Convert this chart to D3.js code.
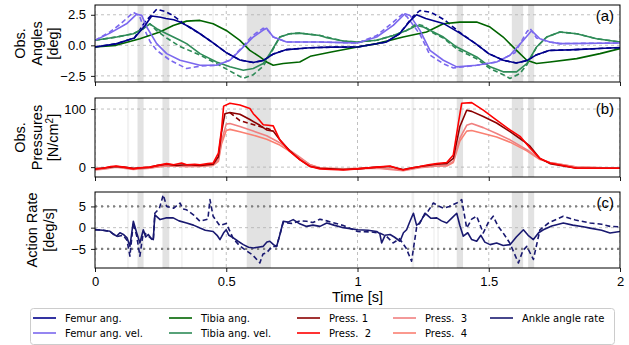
<!DOCTYPE html>
<html>
<head>
<meta charset="utf-8">
<script src="https://cdn.jsdelivr.net/npm/d3@7"></script>
<style>
  body { margin: 0; background: #fff; }
  svg { display: block; }
  .tick-label, .axis-label, .panel-tag { font-family: "Liberation Sans", Arial, sans-serif; fill: #000; }
  .legend text { font-family: "DejaVu Sans", sans-serif; font-size: 10px; white-space: pre; }
</style>
</head>
<body>
<svg width="629" height="345"></svg>
<script>
// ---- data (time [s], value) ----
var xTicks = [0, 0.5, 1, 1.5, 2];
var xTickLabels = ["0", "0.5", "1", "1.5", "2"];

// shaded events: [start, end, strength]
var events = [
  [0.122, 0.130, 0.45], [0.162, 0.185, 1], [0.257, 0.283, 1], [0.328, 0.334, 0.45],
  [0.447, 0.453, 0.45], [0.578, 0.670, 1], [1.206, 1.216, 0.5], [1.289, 1.294, 0.5],
  [1.304, 1.310, 0.5], [1.378, 1.402, 1], [1.588, 1.631, 1], [1.650, 1.673, 1]
];

var femurAng = [[0,-0.14],[0.08,0.12],[0.15,0.6],[0.19,1.6],[0.216,2.4],[0.25,2.3],[0.27,2.2],[0.3,2.1],[0.324,1.9],[0.36,1.5],[0.4,0.95],[0.45,0.2],[0.5,-0.6],[0.552,-1.2],[0.603,-1.4],[0.64,-1.25],[0.68,-0.7],[0.73,-0.35],[0.82,-0.2],[0.9,-0.15],[1.0,-0.14],[1.11,0.27],[1.16,0.95],[1.2,2.0],[1.225,2.5],[1.26,2.2],[1.33,1.76],[1.39,1.0],[1.45,0.14],[1.5,-0.68],[1.555,-1.22],[1.605,-1.44],[1.645,-1.25],[1.68,-0.8],[1.73,-0.42],[1.83,-0.35],[1.96,-0.22],[2.0,-0.19]];
var femurAngRef = [[0,-0.14],[0.08,0.12],[0.15,0.6],[0.19,1.9],[0.235,2.95],[0.27,2.75],[0.3,2.4],[0.35,1.6],[0.4,0.95],[0.45,0.2],[0.5,-0.6],[0.552,-1.2],[0.603,-1.4],[0.64,-1.25],[0.68,-0.7],[0.73,-0.35],[0.82,-0.2],[0.9,-0.15],[1.0,-0.14],[1.11,0.27],[1.16,0.95],[1.213,2.4],[1.238,2.85],[1.28,2.7],[1.33,2.1],[1.39,1.05],[1.45,0.14],[1.5,-0.68],[1.555,-1.22],[1.605,-1.44],[1.645,-1.25],[1.68,-0.8],[1.73,-0.42],[1.83,-0.35],[1.96,-0.22],[2.0,-0.19]];
var femurVel = [[0,0.41],[0.057,1.0],[0.12,1.76],[0.159,2.55],[0.178,2.45],[0.197,1.5],[0.235,0.14],[0.273,-0.68],[0.324,-1.22],[0.4,-1.63],[0.463,-1.63],[0.514,-1.22],[0.552,-0.41],[0.603,0.68],[0.641,1.25],[0.654,1.4],[0.679,0.68],[0.73,0.27],[0.857,0.27],[0.946,0.22],[1.0,0.19],[1.073,0.68],[1.136,1.63],[1.181,2.58],[1.2,2.45],[1.238,1.22],[1.276,-0.41],[1.327,-1.22],[1.378,-1.76],[1.454,-1.63],[1.53,-1.36],[1.581,-0.81],[1.632,0.41],[1.663,1.2],[1.695,0.54],[1.733,0.27],[1.771,0.14],[2.0,0.19]];
var femurVelRef = [[0,0.41],[0.057,1.1],[0.1,1.8],[0.146,2.7],[0.17,2.4],[0.184,1.5],[0.21,0.3],[0.235,-0.41],[0.286,-1.22],[0.349,-1.9],[0.4,-1.7],[0.463,-1.63],[0.514,-1.22],[0.552,-0.35],[0.6,0.8],[0.641,1.4],[0.66,1.2],[0.679,0.68],[0.73,0.27],[0.857,0.27],[0.946,0.22],[1.0,0.19],[1.073,0.8],[1.136,1.9],[1.174,2.6],[1.19,2.3],[1.238,0.9],[1.276,-0.8],[1.327,-1.5],[1.365,-1.85],[1.454,-1.63],[1.53,-1.36],[1.6,-0.6],[1.645,1.1],[1.657,1.4],[1.682,0.6],[1.733,0.27],[1.771,0.14],[2.0,0.19]];
var tibiaAng = [[0,-0.14],[0.08,0],[0.171,0.54],[0.247,1.09],[0.298,1.63],[0.349,1.98],[0.4,2.04],[0.45,1.76],[0.5,1.22],[0.552,0.41],[0.59,-0.41],[0.628,-0.95],[0.654,-1.36],[0.679,-1.63],[0.717,-1.49],[0.78,-1.36],[0.82,-0.9],[0.9,-0.55],[1.0,-0.14],[1.073,0.14],[1.174,0.68],[1.263,1.09],[1.327,1.76],[1.39,1.9],[1.454,1.9],[1.505,1.49],[1.555,0.68],[1.606,-0.41],[1.645,-1.22],[1.682,-1.49],[1.733,-1.36],[1.835,-1.09],[1.924,-0.68],[2.0,-0.27]];
var tibiaVel = [[0,0.41],[0.0825,0.68],[0.146,0.95],[0.184,1.36],[0.209,1.76],[0.235,1.36],[0.273,0.95],[0.324,0.41],[0.349,0.14],[0.4,-0.68],[0.463,-1.36],[0.514,-1.76],[0.565,-2.04],[0.603,-1.9],[0.641,-1.49],[0.666,-0.68],[0.704,0.68],[0.742,0.95],[0.78,1.0],[0.857,0.81],[0.883,0.62],[0.946,0.35],[1.0,0.27],[1.073,0.41],[1.136,0.81],[1.187,1.22],[1.225,1.63],[1.251,1.5],[1.289,1.09],[1.327,0.68],[1.378,-0.14],[1.454,-0.95],[1.505,-1.76],[1.555,-2.17],[1.606,-2.17],[1.645,-1.49],[1.682,-0.14],[1.721,0.68],[1.771,1.09],[1.835,0.95],[1.911,0.54],[2.0,0.27]];
var tibiaVelRef = [[0,0.41],[0.0825,0.68],[0.146,0.95],[0.184,1.36],[0.209,1.76],[0.235,1.2],[0.273,0.6],[0.324,-0.1],[0.4,-0.8],[0.463,-1.5],[0.514,-2.1],[0.565,-2.7],[0.603,-2.4],[0.641,-1.7],[0.666,-0.8],[0.704,0.68],[0.742,0.95],[0.78,1.0],[0.857,0.81],[0.946,0.35],[1.0,0.27],[1.073,0.41],[1.136,0.81],[1.187,1.22],[1.225,1.75],[1.251,1.6],[1.289,1.0],[1.327,0.6],[1.378,-0.3],[1.454,-1.1],[1.505,-1.9],[1.555,-2.4],[1.581,-2.71],[1.619,-2.3],[1.645,-1.6],[1.682,-0.14],[1.721,0.68],[1.771,1.09],[1.835,0.95],[1.911,0.54],[2.0,0.27]];

var press1 = [[0,-3],[0.04,-1],[0.08,1],[0.11,0],[0.146,-2],[0.18,-1],[0.209,0],[0.24,3],[0.273,5],[0.31,3],[0.349,4],[0.4,3],[0.45,5],[0.47,18],[0.482,60],[0.495,92],[0.514,94],[0.552,91],[0.59,82],[0.628,72],[0.654,64],[0.679,62],[0.704,47],[0.742,28],[0.78,13],[0.82,1],[0.857,-2],[0.946,-4],[1.0,-3],[1.073,0],[1.124,1],[1.174,-4],[1.238,1],[1.302,5],[1.34,6],[1.365,15],[1.39,70],[1.416,98],[1.435,96],[1.479,87],[1.53,76],[1.581,61],[1.632,45],[1.657,36],[1.695,15],[1.733,6],[1.835,-2],[2.0,-2]];
var press1Ref = [[0.514,94],[0.53,88],[0.552,80],[0.59,75],[0.628,70],[0.66,66],[0.68,62]];
var press2 = [[0,-3],[0.03,-2],[0.06,1],[0.08,2],[0.11,0],[0.146,-3],[0.17,-1],[0.209,0],[0.24,3],[0.273,6],[0.3,4],[0.33,7],[0.349,4],[0.38,5],[0.4,4],[0.43,6],[0.45,7],[0.47,24],[0.482,64],[0.49,105],[0.514,110],[0.552,107],[0.59,101],[0.603,92],[0.628,80],[0.641,73],[0.66,72],[0.679,71],[0.704,47],[0.742,27],[0.78,13],[0.82,1],[0.857,-3],[0.9,-4],[0.946,-5],[1.0,-3],[1.073,0],[1.124,2],[1.15,-2],[1.174,-5],[1.2,-2],[1.238,1],[1.27,4],[1.302,6],[1.34,8],[1.365,21],[1.384,75],[1.397,110],[1.435,111],[1.479,98],[1.53,81],[1.581,64],[1.619,53],[1.657,33],[1.695,15],[1.733,7],[1.835,-2],[2.0,-2]];
var press3 = [[0,-5],[0.04,-3],[0.08,0],[0.146,-4],[0.209,-2],[0.273,3],[0.349,1],[0.4,2],[0.45,4],[0.47,12],[0.482,45],[0.5,74],[0.514,75],[0.552,70],[0.603,62],[0.654,54],[0.704,42],[0.742,29],[0.78,17],[0.82,4],[0.857,-2],[0.946,-4],[1.073,-2],[1.174,-6],[1.238,-1],[1.302,2],[1.34,3],[1.365,10],[1.39,50],[1.416,72],[1.435,75],[1.479,68],[1.53,58],[1.581,47],[1.645,30],[1.695,14],[1.733,8],[1.835,0],[2.0,-2]];
var press4 = [[0,-4],[0.04,-2],[0.08,1],[0.146,-3],[0.209,-1],[0.273,2],[0.349,1],[0.4,1],[0.45,3],[0.47,10],[0.482,40],[0.5,63],[0.514,65],[0.552,61],[0.603,55],[0.654,48],[0.704,38],[0.742,27],[0.78,16],[0.82,4],[0.857,-1],[0.946,-3],[1.073,-1],[1.174,-5],[1.238,0],[1.302,2],[1.34,2],[1.365,8],[1.39,45],[1.416,62],[1.435,63],[1.479,58],[1.53,52],[1.581,43],[1.645,28],[1.695,13],[1.733,8],[1.835,0],[2.0,-2]];

var ankleRate = [[0,-0.47],[0.03,-0.6],[0.057,-0.86],[0.07,-1.5],[0.0825,-2.0],[0.095,-1.2],[0.108,-1.6],[0.122,-2.4],[0.133,-4.4],[0.146,1.5],[0.159,-1.25],[0.171,-3.6],[0.184,-0.5],[0.193,-2.2],[0.203,-1.6],[0.215,-2.6],[0.222,-2.8],[0.228,3.0],[0.248,1.9],[0.27,2.3],[0.298,2.3],[0.32,1.6],[0.349,1.1],[0.375,0.6],[0.4,-0.1],[0.42,-0.6],[0.45,-0.9],[0.465,-1.8],[0.476,-2.8],[0.49,-1.2],[0.5,-0.5],[0.51,-1.8],[0.527,-2.4],[0.545,-3.2],[0.565,-4.0],[0.585,-4.6],[0.603,-4.8],[0.62,-4.6],[0.641,-4.4],[0.655,-3.4],[0.666,-3.2],[0.68,-4.0],[0.692,-4.4],[0.705,-1.5],[0.717,1.5],[0.735,1.3],[0.755,1.9],[0.78,0.9],[0.806,0.3],[0.83,0.6],[0.857,0.3],[0.883,1.1],[0.91,0.6],[0.946,0.0],[1.0,-0.5],[1.04,-0.6],[1.073,-0.9],[1.085,-1.4],[1.092,-3.6],[1.105,-1.8],[1.124,-1.6],[1.14,-2.2],[1.162,-3.2],[1.175,-1.2],[1.187,-0.5],[1.2,1.5],[1.213,3.4],[1.225,0.6],[1.238,1.1],[1.257,3.4],[1.28,2.2],[1.302,2.3],[1.32,1.6],[1.34,1.1],[1.36,2.3],[1.378,3.4],[1.39,0.5],[1.403,-2],[1.42,-1.2],[1.435,-2.8],[1.454,-3.2],[1.47,-1.8],[1.485,-3.4],[1.505,-4],[1.53,-3.6],[1.555,-4.2],[1.581,-4],[1.605,-2.2],[1.632,-0.5],[1.65,-1.8],[1.67,-2.8],[1.69,-1.2],[1.708,-0.5],[1.74,0.4],[1.784,1.1],[1.82,0.6],[1.86,0.2],[1.886,-0.1],[1.93,-0.6],[1.962,-1.25],[2.0,-0.9]];
var ankleRateRef = [[0,-0.47],[0.03,-0.6],[0.057,-0.9],[0.0825,-2.1],[0.108,-1.8],[0.122,-3],[0.133,-6.7],[0.146,1.2],[0.159,-2],[0.171,-6.7],[0.184,-1],[0.203,-2],[0.222,-3],[0.228,3.4],[0.245,4.5],[0.26,7.7],[0.273,5],[0.3,4.6],[0.324,5.8],[0.335,4.4],[0.349,4.2],[0.375,3.0],[0.4,1.5],[0.43,2],[0.438,6.6],[0.45,2.7],[0.475,0.5],[0.5,1],[0.527,-2.6],[0.55,-4.2],[0.578,-5.5],[0.6,-6.4],[0.628,-8.3],[0.64,-6.2],[0.654,-5.9],[0.675,-4.4],[0.692,-4.4],[0.717,1.2],[0.75,1.0],[0.78,1.6],[0.806,1.5],[0.83,1.2],[0.857,2.0],[0.883,1.6],[0.946,0.5],[1.0,-0.9],[1.05,-1.0],[1.086,-1.3],[1.11,-2.0],[1.136,-3.6],[1.16,-2.6],[1.185,-4.8],[1.206,-7.9],[1.225,0],[1.251,2.6],[1.27,4.0],[1.289,5.8],[1.305,5.2],[1.327,4.6],[1.35,5.0],[1.378,5.8],[1.397,6.6],[1.416,-0.1],[1.435,2.0],[1.454,2.7],[1.479,-1.25],[1.498,1.2],[1.517,2.7],[1.535,0.4],[1.555,-1.25],[1.58,-3.6],[1.613,-8.3],[1.63,-5.4],[1.645,-4.4],[1.67,-7.5],[1.695,-0.5],[1.73,1.2],[1.784,2.7],[1.83,1.8],[1.886,1.1],[1.93,0.8],[1.962,0.3],[2.0,0.2]];

// ---- layout ----
var svg = d3.select("svg");
var x = d3.scaleLinear().domain([0, 2]).range([95, 620]);

var panels = [
  { id: "a", top: 5, bottom: 82, domain: [-3.0, 3.3], ticks: [-2.5, 0, 2.5], fmt: d3.format(".1f"),
    label: ["Obs.", "Angles", "[deg]"],
    series: [
      { data: tibiaVelRef, color: "#2e8b57", dash: "5,3" },
      { data: femurVelRef, color: "#7b68ee", dash: "5,3" },
      { data: femurAngRef, color: "#00008b", dash: "5,3" },
      { data: tibiaAng, color: "#006400" },
      { data: tibiaVel, color: "#2e8b57" },
      { data: femurVel, color: "#7b68ee" },
      { data: femurAng, color: "#00008b" }
    ] },
  { id: "b", top: 98, bottom: 177, domain: [-17, 119], ticks: [0, 100], fmt: d3.format("d"),
    label: ["Obs.", "Pressures", "[N/cm²]"],
    series: [
      { data: press4, color: "#fa8072" },
      { data: press3, color: "#f08080" },
      { data: press1Ref, color: "#8b0000", dash: "5,3" },
      { data: press1, color: "#8b0000" },
      { data: press2, color: "#ff0000" }
    ] },
  { id: "c", top: 192, bottom: 268, domain: [-9.5, 8.4], ticks: [-5, 0, 5], fmt: d3.format("d"),
    label: ["Action Rate", "[deg/s]"], limits: [-5, 5],
    series: [
      { data: ankleRateRef, color: "#191970", dash: "5,3" },
      { data: ankleRate, color: "#191970" }
    ] }
];

panels.forEach(function (p, i) {
  var y = d3.scaleLinear().domain(p.domain).range([p.bottom, p.top]);
  var g = svg.append("g");

  g.append("clipPath").attr("id", "clip" + p.id)
    .append("rect").attr("x", x(0)).attr("y", p.top)
    .attr("width", x(2) - x(0)).attr("height", p.bottom - p.top);

  var inner = g.append("g").attr("clip-path", "url(#clip" + p.id + ")");

  // event bands
  inner.selectAll(".band").data(events).enter().append("rect")
    .attr("x", function (d) { return x(d[0]); })
    .attr("width", function (d) { return x(d[1]) - x(d[0]); })
    .attr("y", p.top).attr("height", p.bottom - p.top)
    .attr("fill", "#d8d8d8")
    .attr("opacity", function (d) { return d[2] * 0.75; });

  // grid
  inner.selectAll(".gx").data(xTicks).enter().append("line")
    .attr("x1", function (d) { return x(d); }).attr("x2", function (d) { return x(d); })
    .attr("y1", p.top).attr("y2", p.bottom)
    .attr("stroke", "#b0b0b0").attr("stroke-width", 0.8).attr("stroke-dasharray", "3,3");
  inner.selectAll(".gy").data(p.ticks).enter().append("line")
    .attr("x1", x(0)).attr("x2", x(2))
    .attr("y1", function (d) { return y(d); }).attr("y2", function (d) { return y(d); })
    .attr("stroke", "#b0b0b0").attr("stroke-width", 0.8).attr("stroke-dasharray", "3,3");

  if (p.limits) {
    inner.selectAll(".lim").data(p.limits).enter().append("line")
      .attr("x1", x(0)).attr("x2", x(2))
      .attr("y1", function (d) { return y(d); }).attr("y2", function (d) { return y(d); })
      .attr("stroke", "#808080").attr("stroke-width", 2.2).attr("stroke-dasharray", "2,4");
  }

  var line = d3.line()
    .x(function (d) { return x(d[0]); })
    .y(function (d) { return y(d[1]); });

  p.series.forEach(function (s) {
    inner.append("path")
      .datum(s.data)
      .attr("d", line)
      .attr("fill", "none")
      .attr("stroke", s.color)
      .attr("stroke-width", 1.6)
      .attr("stroke-linejoin", "round")
      .attr("stroke-dasharray", s.dash || null);
  });

  // axes
  var yAxis = g.append("g").attr("transform", "translate(" + x(0) + ",0)")
    .call(d3.axisLeft(y).tickValues(p.ticks).tickSize(4).tickPadding(5)
      .tickFormat(function (d) { return p.fmt(d).replace("-", "\u2212"); }));
  var xAxis = g.append("g").attr("transform", "translate(0," + p.bottom + ")")
    .call(d3.axisBottom(x).tickValues(xTicks).tickSize(4).tickPadding(5)
      .tickFormat(function (d, k) { return i === 2 ? xTickLabels[k] : ""; }));
  [yAxis, xAxis].forEach(function (a) {
    a.select(".domain").remove();
    a.selectAll("line").attr("stroke", "#000").attr("stroke-width", 0.9);
    a.selectAll("text").attr("class", "tick-label").style("font-size", "13px")
      .attr("font-family", null);
  });

  // frame
  g.append("rect").attr("x", x(0)).attr("y", p.top)
    .attr("width", x(2) - x(0)).attr("height", p.bottom - p.top)
    .attr("fill", "none").attr("stroke", "#000").attr("stroke-width", 1);

  // y label
  var cy = (p.top + p.bottom) / 2;
  var n = p.label.length;
  var x0 = n === 3 ? 20 : 32;
  p.label.forEach(function (t, k) {
    var txt = g.append("text").attr("class", "axis-label")
      .attr("transform", "translate(" + (x0 + k * 16.5) + "," + cy + ") rotate(-90)")
      .attr("text-anchor", "middle").attr("dy", "0.35em")
      .style("font-size", "14.5px");
    if (t === "[N/cm²]") {
      txt.text("[N/cm");
      txt.append("tspan").attr("baseline-shift", "super").style("font-size", "10px").text("2");
      txt.append("tspan").text("]");
    } else {
      txt.text(t);
    }
  });

  // panel tag
  g.append("text").attr("class", "panel-tag")
    .attr("x", 614).attr("y", p.top + 16)
    .attr("text-anchor", "end").style("font-size", "15px")
    .text("(" + p.id + ")");
});

svg.append("text").attr("class", "axis-label")
  .attr("x", x(1)).attr("y", 302).attr("text-anchor", "middle")
  .style("font-size", "14.5px").text("Time [s]");

// ---- legend ----
var legendItems = [
  { name: "Femur ang.", color: "#00008b", col: 0, row: 0 },
  { name: "Femur ang. vel.", color: "#7b68ee", col: 0, row: 1 },
  { name: "Tibia ang.", color: "#006400", col: 1, row: 0 },
  { name: "Tibia ang. vel.", color: "#2e8b57", col: 1, row: 1 },
  { name: "Press. 1", color: "#8b0000", col: 2, row: 0 },
  { name: "Press.  2", color: "#ff0000", col: 2, row: 1 },
  { name: "Press.  3", color: "#f08080", col: 3, row: 0 },
  { name: "Press.  4", color: "#fa8072", col: 3, row: 1 },
  { name: "Ankle angle rate", color: "#191970", col: 4, row: 0 }
];
var colX = [33, 169, 297, 393, 490];

var legend = svg.append("g").attr("class", "legend");
legend.append("rect").attr("x", 30.5).attr("y", 308.5).attr("width", 584).attr("height", 36)
  .attr("rx", 3).attr("fill", "#fff").attr("stroke", "#cccccc").attr("stroke-width", 1);
var li = legend.selectAll(".item").data(legendItems).enter().append("g")
  .attr("transform", function (d) { return "translate(" + colX[d.col] + "," + (318 + d.row * 15) + ")"; });
li.append("line").attr("x1", 0).attr("x2", 23).attr("y1", 0).attr("y2", 0)
  .attr("stroke", function (d) { return d.color; }).attr("stroke-width", 1.6);
li.append("text").attr("x", 32).attr("dy", "0.35em").text(function (d) { return d.name; });
</script>
</body>
</html>
